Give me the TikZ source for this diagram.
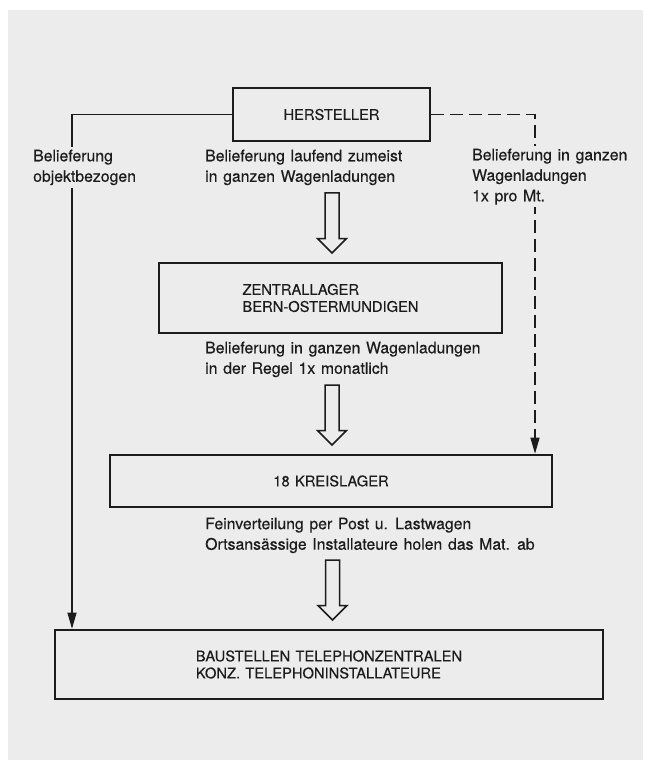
\documentclass[tikz,border=0pt]{standalone}
\usepackage{fontspec}
\setmainfont{TeX Gyre Heros}
\newfontfamily\labelfont[WordSpace=2.3,FakeBold=0.3]{TeX Gyre Heros}
\newfontfamily\boxfont[WordSpace=1.3,FakeBold=0.3]{TeX Gyre Heros}
\usetikzlibrary{arrows.meta}
\definecolor{paper}{RGB}{236,236,236}
\definecolor{ink}{RGB}{28,28,28}
\begin{document}
\begin{tikzpicture}[x=1pt,y=-1pt,
  box/.style={draw=ink, line width=2.6pt, inner sep=0pt, align=left, text=ink,
    font=\boxfont\fontsize{14.7}{17}\selectfont},
  lbl/.style={inner xsep=2pt, inner ysep=2.5pt, align=left, anchor=north west, text=ink, fill=paper,
    font=\labelfont\fontsize{15.8}{20.5}\selectfont},
  conn/.style={draw=ink, line width=1.3pt, -{Triangle[length=16pt,width=9pt]}},
  hollowpic/.pic={\draw[draw=ink, line width=1.5pt, fill=paper, line join=miter]
    (-7,0) -- (-7,45.5) -- (-14.5,45.5) -- (0,60) -- (14.5,45.5) -- (7,45.5) -- (7,0) -- cycle;}]
\useasboundingbox (0,0) rectangle (651,767);
\fill[paper] (8,10) rectangle (643,760);
% boxes
\node[box, minimum width=197pt, minimum height=53pt] (hst) at (331.5,114.5) {HERSTELLER};
\node[box, minimum width=343pt, minimum height=70pt] (zl) at (330.5,298) {ZENTRALLAGER\\BERN-OSTERMUNDIGEN};
\node[box, minimum width=442pt, minimum height=52pt] (kl) at (331,481) {18 KREISLAGER};
\node[box, minimum width=548pt, minimum height=69pt] (bs) at (329,664.5) {BAUSTELLEN TELEPHONZENTRALEN\\KONZ. TELEPHONINSTALLATEURE};
% side connectors
\coordinate (lx) at (72,0);
\coordinate (rx) at (535,0);
\draw[conn] (hst.west) -| (lx |- bs.north);
\draw[conn, dash pattern=on 13pt off 6pt] (hst.east) -| (rx |- kl.north);
% labels
\node[lbl] (lleft) at (31,147) {Belieferung\\objektbezogen};
\node[lbl] (lmid) at (203,147) {Belieferung laufend zumeist\\in ganzen Wagenladungen};
\node[lbl] (lright) at (470,146) {Belieferung in ganzen\\Wagenladungen\\1x pro Mt.};
\node[lbl] (lzl) at (203,339) {Belieferung in ganzen Wagenladungen\\in der Regel 1x monatlich};
\node[lbl] (lkl) at (203,515) {Feinverteilung per Post u. Lastwagen\\Ortsansässige Installateure holen das Mat. ab};
% hollow arrows
\pic (a1) at (332,193) {hollowpic};
\pic (a2) at (332,385) {hollowpic};
\pic (a3) at (332.5,560) {hollowpic};
\end{tikzpicture}
\end{document}
